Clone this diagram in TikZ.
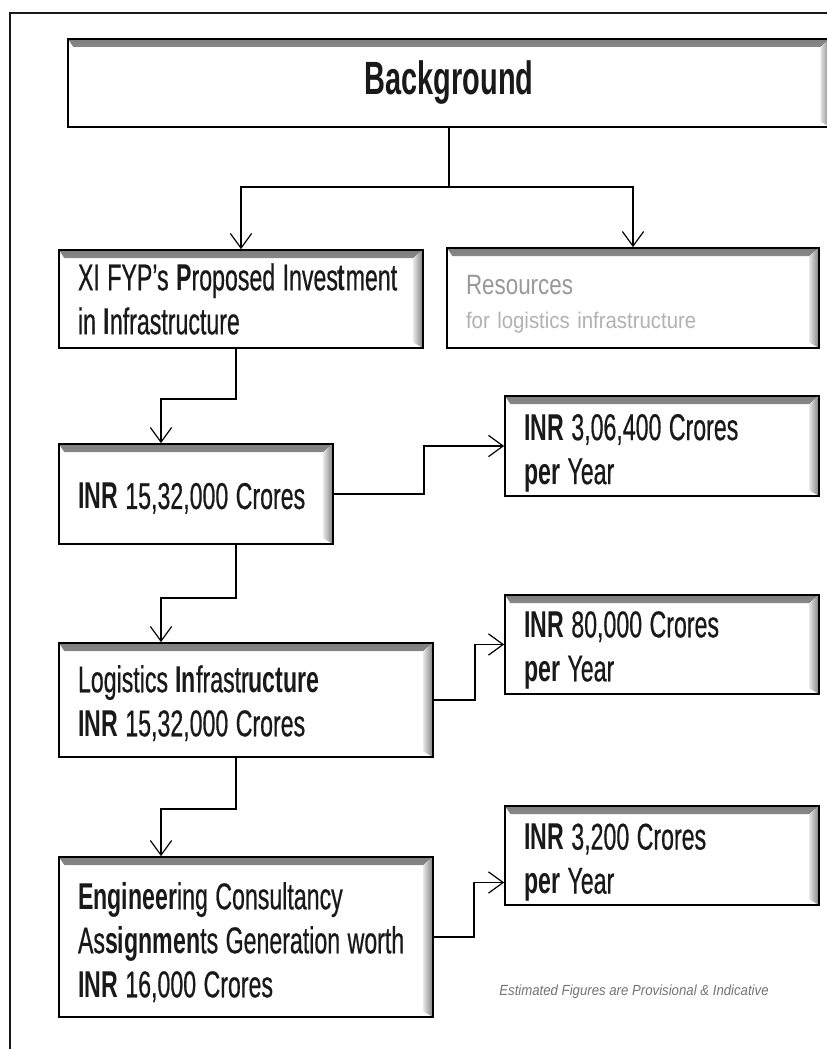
\documentclass[tikz,border=0pt]{standalone}
\usepackage{fontspec}
\setmainfont[FakeStretch=0.62, UprightFeatures={FakeBold=0.5}]{Liberation Sans}
\newfontfamily\resfont[FakeStretch=0.8]{Liberation Sans}
\newfontfamily\subfont[FakeStretch=0.9]{Liberation Sans}
\newfontfamily\notefont[FakeStretch=0.9]{Liberation Sans}
\usetikzlibrary{arrows.meta,calc}
% invisible strut that lowers a text block inside its box
\newcommand{\topstrut}[1]{\rule{0pt}{#1}}

\begin{document}
\begin{tikzpicture}[x=0.75pt,y=-0.75pt,
  % raised box: black outline, shaded bevel along the top and right edges
  panel/.style={rectangle, draw=black, line width=1.3pt, fill=white,
    inner xsep=14.25pt, inner ysep=0pt, align=left,
    font={\fontsize{28}{33}\selectfont}, text=black!90,
    execute at begin node={\spaceskip=0.2em plus 0.05em\xspaceskip=0.2em\relax},
    path picture={
      \fill[top color=black!50, bottom color=black!12]
        (path picture bounding box.north west) -- (path picture bounding box.north east)
        -- ([xshift=-7pt,yshift=-6pt]path picture bounding box.north east)
        -- ([xshift=4pt,yshift=-6pt]path picture bounding box.north west) -- cycle;
      \fill[left color=black!12, right color=black!50]
        (path picture bounding box.north east) -- (path picture bounding box.south east)
        -- ([xshift=-7pt,yshift=4pt]path picture bounding box.south east)
        -- ([xshift=-7pt,yshift=-6pt]path picture bounding box.north east) -- cycle;
    }},
  conn/.style={draw=black, line width=1.4pt,
    -{Straight Barb[length=11pt,width=16pt,line width=0.9pt]}},
  frameline/.style={draw=black!90, line width=1.6pt}
]
\useasboundingbox (0,0) rectangle (827,1049);

% outer frame (top and left edges)
\draw[frameline] (10,1049) -- (10,13) -- (827,13);

% boxes
\node[panel, minimum width=571.5pt, minimum height=66pt, text width=540pt, align=center,
      font={\bfseries\fontsize{35}{40}\selectfont}] (bg) at (449,83) {Background};

\node[panel, minimum width=273pt, minimum height=73.5pt, text width=244.5pt] (xi) at (241,299)
  {XI FYP's \textbf{P}roposed Inves\textbf{t}ment\\ in \textbf{I}nfrastructure};

\node[panel, minimum width=279pt, minimum height=75pt, text width=250.5pt, text=black!40] (res) at (633,298)
  {\topstrut{24pt}{\resfont\fontsize{21}{25}\selectfont Resources}\\[-8pt]
   {\subfont\fontsize{17}{20}\selectfont\color{black!30}for logistics infrastructure}};

\node[panel, minimum width=205.5pt, minimum height=75pt, text width=177pt] (inr) at (196,494)
  {\topstrut{26pt}\textbf{INR} 15,32,000 Crores};

\node[panel, minimum width=235.5pt, minimum height=75pt, text width=207pt] (r1) at (662,446)
  {\topstrut{30pt}\textbf{INR} 3,06,400 Crores\\ \textbf{per} Year};

\node[panel, minimum width=280.5pt, minimum height=85.5pt, text width=252pt] (log) at (246,700)
  {\topstrut{25pt}Logistics \textbf{In}frastr\textbf{ucture}\\ \textbf{INR} 15,32,000 Crores};

\node[panel, minimum width=235.5pt, minimum height=74.25pt, text width=207pt] (r2) at (662,644.5)
  {\topstrut{28pt}\textbf{INR} 80,000 Crores\\ \textbf{per} Year};

\node[panel, minimum width=280.5pt, minimum height=120pt, text width=252pt] (eng) at (246,937)
  {\topstrut{28pt}\textbf{Engineer}ing Consultancy\\ As\textbf{signmen}ts Generation worth\\ \textbf{INR} 16,000 Crores};

\node[panel, minimum width=235.5pt, minimum height=74.25pt, text width=207pt] (r3) at (662,855.5)
  {\topstrut{30pt}\textbf{INR} 3,200 Crores\\ \textbf{per} Year};

\node[font={\notefont\itshape\fontsize{11}{13}\selectfont}, text=black!55, inner sep=0pt] (note) at (634,992)
  {Estimated Figures are Provisional \& Indicative};

% connectors
\draw[conn] (bg.south) -- ++(0,59) -| (xi.north);
\draw[conn] (bg.south) -- ++(0,59) -| (res.north);
\draw[conn] ($(xi.south)+(-5,0)$) -- ++(0,50) -| ($(inr.north)+(-35,0)$);
\draw[conn] (inr.east) -- ++(90,0) |- (r1.west);
\draw[conn] ($(inr.south)+(40,0)$) -- ++(0,53) -| ($(log.north)+(-85,0)$);
\draw[conn] (log.east) -- ++(41,0) |- (r2.west);
\draw[conn] ($(log.south)+(-10,0)$) -- ++(0,51) -| ($(eng.north)+(-85,0)$);
\draw[conn] (eng.east) -- ++(40,0) |- ($(r3.west)+(0,27)$);
\end{tikzpicture}
\end{document}
